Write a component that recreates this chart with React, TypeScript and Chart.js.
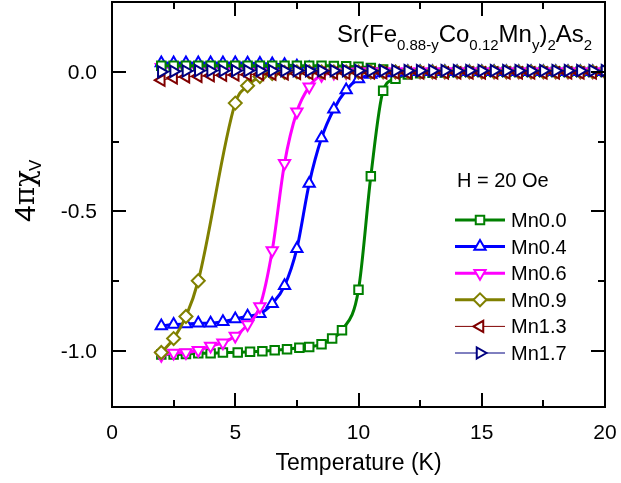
import React, { useEffect, useRef } from "react";
import { Chart, registerables } from "chart.js";
import { drawPoint } from "chart.js/helpers";

Chart.register(...registerables);

// ---- Data: 4πχV vs temperature (K) ----
// ZFC branches
const tMn00 = [2.0, 2.5, 3.0, 3.5, 4.0, 4.5, 5.1, 5.6, 6.1, 6.6, 7.1, 7.6, 8.0, 8.5, 8.93, 9.33, 10.0, 10.5, 11.0, 11.5, 12.0, 12.5, 13.0, 13.5, 14.0, 14.5, 15.0, 15.5, 16.0, 16.5, 17.0, 17.5, 18.0, 18.5, 19.0, 19.5, 20.0];
const vMn00 = [-1.012, -1.012, -1.010, -1.008, -1.008, -1.005, -1.005, -1.002, -1.0, -0.997, -0.993, -0.988, -0.985, -0.975, -0.955, -0.925, -0.78, -0.374, -0.068, -0.025, -0.01, -0.005, -0.003, -0.002, -0.001, 0, 0, 0, 0, 0, 0, 0, 0, 0, 0, 0, 0];

const tMn04 = [2.0, 2.5, 3.0, 3.5, 4.0, 4.5, 5.0, 5.5, 6.0, 6.5, 7.0, 7.5, 8.0, 8.5, 9.0, 9.5, 10.0, 10.5, 11.0, 11.5, 12.0, 12.5, 13.0, 13.5, 14.0, 14.5, 15.0, 15.5, 16.0, 16.5, 17.0, 17.5, 18.0, 18.5, 19.0, 19.5, 20.0];
const vMn04 = [-0.91, -0.905, -0.903, -0.9, -0.9, -0.895, -0.885, -0.875, -0.866, -0.83, -0.766, -0.633, -0.4, -0.237, -0.134, -0.065, -0.026, -0.01, -0.004, -0.002, 0, 0, 0, 0, 0, 0, 0, 0, 0, 0, 0, 0, 0, 0, 0, 0, 0];

const tMn06 = [2.0, 2.5, 3.0, 3.5, 4.0, 4.5, 5.0, 5.5, 6.0, 6.5, 7.0, 7.5, 8.0, 8.5, 9.0, 9.5, 10.0, 10.5, 11.0, 11.5, 12.0, 12.5, 13.0, 13.5, 14.0, 14.5, 15.0, 15.5, 16.0, 16.5, 17.0, 17.5, 18.0, 18.5, 19.0, 19.5, 20.0];
const vMn06 = [-1.015, -1.007, -1.005, -0.997, -0.982, -0.97, -0.946, -0.905, -0.84, -0.64, -0.327, -0.143, -0.053, -0.012, -0.004, -0.002, 0, 0, 0, 0, 0, 0, 0, 0, 0, 0, 0, 0, 0, 0, 0, 0, 0, 0, 0, 0, 0];

const tMn09 = [2.0, 2.5, 3.0, 3.5, 5.0, 5.5, 6.0, 6.5, 7.0, 7.5, 8.0, 8.5, 9.0, 9.5, 10.0, 10.5, 11.0, 11.5, 12.0, 12.5, 13.0, 13.5, 14.0, 14.5, 15.0, 15.5, 16.0, 16.5, 17.0, 17.5, 18.0, 18.5, 19.0, 19.5, 20.0];
const vMn09 = [-1.005, -0.955, -0.876, -0.748, -0.112, -0.05, -0.017, -0.006, -0.002, 0, 0, 0, 0, 0, 0, 0, 0, 0, 0, 0, 0, 0, 0, 0, 0, 0, 0, 0, 0, 0, 0, 0, 0, 0, 0];

const tMn13 = [2.0, 2.5, 3.0, 3.5, 4.0, 4.5, 5.0, 5.5, 6.0, 6.5, 7.0, 7.5, 8.0, 8.5, 9.0, 9.5, 10.0, 10.5, 11.0, 11.5, 12.0, 12.5, 13.0, 13.5, 14.0, 14.5, 15.0, 15.5, 16.0, 16.5, 17.0, 17.5, 18.0, 18.5, 19.0, 19.5, 20.0];
const vMn13 = [-0.03, -0.022, -0.018, -0.016, -0.014, -0.012, -0.011, -0.01, -0.009, -0.008, -0.007, -0.006, -0.006, -0.005, -0.005, -0.005, -0.004, -0.004, -0.004, -0.004, -0.004, -0.004, -0.004, -0.004, -0.004, -0.004, -0.004, -0.004, -0.004, -0.004, -0.004, -0.004, -0.004, -0.004, -0.004, -0.004, -0.004];

const tMn17 = [2.0, 2.5, 3.0, 3.5, 4.0, 4.5, 5.0, 5.5, 6.0, 6.5, 7.0, 7.5, 8.0, 8.5, 9.0, 9.5, 10.0, 10.5, 11.0, 11.5, 12.0, 12.5, 13.0, 13.5, 14.0, 14.5, 15.0, 15.5, 16.0, 16.5, 17.0, 17.5, 18.0, 18.5, 19.0, 19.5, 20.0];
const vMn17 = [0.0, 0.002, 0.003, 0.004, 0.004, 0.004, 0.004, 0.004, 0.004, 0.004, 0.004, 0.004, 0.004, 0.004, 0.004, 0.004, 0.004, 0.004, 0.004, 0.004, 0.004, 0.004, 0.004, 0.004, 0.004, 0.004, 0.004, 0.004, 0.004, 0.004, 0.004, 0.004, 0.004, 0.004, 0.004, 0.004, 0.004];

// FC branches (stay near zero below Tc)
const tFcMn00 = [2.0, 2.5, 3.0, 3.5, 4.0, 4.5, 5.0, 5.5, 6.0, 6.5, 7.0, 7.5, 8.0, 8.5, 9.0, 9.5, 10.0, 10.5, 11.0];
const vFcMn00 = [0.022, 0.022, 0.022, 0.022, 0.022, 0.022, 0.022, 0.022, 0.022, 0.022, 0.022, 0.022, 0.022, 0.022, 0.021, 0.02, 0.018, 0.014, 0.008];
const tFcMn04 = [2.0, 2.5, 3.0, 3.5, 4.0, 4.5, 5.0, 5.5, 6.0, 6.5, 7.0, 7.5, 8.0, 8.5];
const vFcMn04 = [0.032, 0.032, 0.032, 0.032, 0.032, 0.032, 0.032, 0.031, 0.03, 0.028, 0.025, 0.02, 0.014, 0.008];
const tFcMn06 = [2.0, 2.5, 3.0, 3.5, 4.0, 4.5, 5.0, 5.5, 6.0, 6.5, 7.0];
const vFcMn06 = [0.016, 0.016, 0.016, 0.016, 0.016, 0.015, 0.014, 0.013, 0.011, 0.008, 0.005];

const xTickValues = [0, 5, 10, 15, 20];
const xMinorTicks = [2.5, 7.5, 12.5, 17.5];
const yTickValues = [-1.0, -0.5, 0.0];
const yMinorTicks = [-0.75, -0.25];

const legendLabels = ["Mn0.0", "Mn0.4", "Mn0.6", "Mn0.9", "Mn1.3", "Mn1.7"];
const fieldLabel = "H = 20 Oe";

const FONT = "'Liberation Sans', Arial, sans-serif";

const pts = (t: number[], v: number[]) => t.map((x, i) => ({ x, y: v[i] }));

type Style = {
  color: string;
  pointStyle: string;
  rotation: number;
  radius: number;
  lineWidth: number;
};

const styles: Style[] = [
  { color: "#008000", pointStyle: "rect", rotation: 0, radius: 6, lineWidth: 3 },
  { color: "#0000ff", pointStyle: "triangle", rotation: 0, radius: 6.5, lineWidth: 3 },
  { color: "#ff00ff", pointStyle: "triangle", rotation: 180, radius: 6.5, lineWidth: 3 },
  { color: "#808000", pointStyle: "rectRot", rotation: 0, radius: 6.5, lineWidth: 3 },
  { color: "#800000", pointStyle: "triangle", rotation: -90, radius: 6.5, lineWidth: 1 },
  { color: "#000080", pointStyle: "triangle", rotation: 90, radius: 6.5, lineWidth: 1 },
];

const series = [
  pts(tMn00, vMn00),
  pts(tMn04, vMn04),
  pts(tMn06, vMn06),
  pts(tMn09, vMn09),
  pts(tMn13, vMn13),
  pts(tMn17, vMn17),
];

const fcSeries = [
  { data: pts(tFcMn00, vFcMn00), s: 0 },
  { data: pts(tFcMn04, vFcMn04), s: 1 },
  { data: pts(tFcMn06, vFcMn06), s: 2 },
];

// draw order: Mn1.7 on top, then Mn1.3, Mn0.9, Mn0.6, Mn0.4, Mn0.0, FC below
const drawOrder = [5, 4, 3, 2, 1, 0];

function makeDataset(data: { x: number; y: number }[], st: Style, order: number, label: string) {
  return {
    label,
    data,
    order,
    borderColor: st.color,
    borderWidth: st.lineWidth,
    pointStyle: st.pointStyle,
    pointRotation: st.rotation,
    pointRadius: st.radius,
    pointBorderWidth: 2,
    pointBorderColor: st.color,
    pointBackgroundColor: "#ffffff",
    cubicInterpolationMode: "monotone" as const,
    fill: false,
  };
}

const framePlugin = {
  id: "frame",
  afterDatasetsDraw(chart: any) {
    const { ctx, chartArea: a, scales } = chart;
    const xs = scales.x;
    const ys = scales.y;
    ctx.save();
    ctx.strokeStyle = "#000";
    ctx.lineWidth = 2;
    ctx.strokeRect(a.left, a.top, a.right - a.left, a.bottom - a.top);
    const major = 14;
    const minor = 7;
    ctx.beginPath();
    const xt = (v: number, len: number) => {
      const px = Math.round(xs.getPixelForValue(v));
      ctx.moveTo(px, a.bottom);
      ctx.lineTo(px, a.bottom - len);
      ctx.moveTo(px, a.top);
      ctx.lineTo(px, a.top + len);
    };
    const yt = (v: number, len: number) => {
      const py = Math.round(ys.getPixelForValue(v));
      ctx.moveTo(a.left, py);
      ctx.lineTo(a.left + len, py);
      ctx.moveTo(a.right, py);
      ctx.lineTo(a.right - len, py);
    };
    xTickValues.forEach((v) => xt(v, major));
    xMinorTicks.forEach((v) => xt(v, minor));
    yTickValues.forEach((v) => yt(v, major));
    yMinorTicks.forEach((v) => yt(v, minor));
    ctx.stroke();

    // tick labels
    ctx.fillStyle = "#000";
    ctx.font = `21px ${FONT}`;
    ctx.textAlign = "center";
    ctx.textBaseline = "middle";
    xTickValues.forEach((v) => {
      ctx.fillText(String(v), xs.getPixelForValue(v), 433);
    });
    ctx.textAlign = "right";
    yTickValues.forEach((v) => {
      ctx.fillText(v.toFixed(1), 97, ys.getPixelForValue(v) + 1);
    });

    // axis titles
    ctx.font = `23px ${FONT}`;
    ctx.textAlign = "center";
    ctx.fillText("Temperature (K)", (a.left + a.right) / 2, 464);

    // y title: 4πχ_V, rotated
    ctx.save();
    ctx.translate(35, 222);
    ctx.rotate(-Math.PI / 2);
    ctx.textAlign = "left";
    ctx.textBaseline = "alphabetic";
    let x = 0;
    ctx.font = `30px ${FONT}`;
    ctx.fillText("4", x, 0);
    x += ctx.measureText("4").width;
    ctx.font = `28px 'DejaVu Serif', serif`;
    ctx.fillText("πχ", x, -1);
    x += ctx.measureText("πχ").width;
    ctx.font = `17px ${FONT}`;
    ctx.fillText("V", x - 1, 6);
    ctx.restore();

    // compound formula
    ctx.textAlign = "left";
    ctx.textBaseline = "alphabetic";
    const parts: [string, boolean][] = [
      ["Sr(Fe", false],
      ["0.88-y", true],
      ["Co", false],
      ["0.12", true],
      ["Mn", false],
      ["y", true],
      [")", false],
      ["2", true],
      ["As", false],
      ["2", true],
    ];
    let fx = 337;
    parts.forEach(([txt, sub]) => {
      ctx.font = sub ? `15px ${FONT}` : `24px ${FONT}`;
      ctx.fillText(txt, fx, sub ? 50 : 42);
      fx += ctx.measureText(txt).width;
    });

    // legend
    ctx.font = `20px ${FONT}`;
    ctx.fillText(fieldLabel, 457, 187);
    legendLabels.forEach((lab, i) => {
      const st = styles[i];
      const y = 220 + i * 26.6;
      ctx.strokeStyle = st.color;
      ctx.lineWidth = st.lineWidth;
      ctx.beginPath();
      ctx.moveTo(455, y);
      ctx.lineTo(505, y);
      ctx.stroke();
      ctx.fillStyle = "#ffffff";
      ctx.strokeStyle = st.color;
      ctx.lineWidth = 2;
      drawPoint(ctx, { pointStyle: st.pointStyle, radius: st.radius, rotation: st.rotation, borderWidth: 2 } as any, 480, y);
      ctx.fillStyle = "#000";
      ctx.font = `20px ${FONT}`;
      ctx.fillText(lab, 511, y + 7);
    });
    ctx.restore();
  },
};

export default function App() {
  const ref = useRef<HTMLCanvasElement | null>(null);

  useEffect(() => {
    if (!ref.current) return;
    const datasets: any[] = [];
    series.forEach((d, i) => {
      datasets.push(makeDataset(d, styles[i], drawOrder[i], legendLabels[i]));
    });
    fcSeries.forEach((f, k) => {
      datasets.push(makeDataset(f.data, styles[f.s], 10 + k, legendLabels[f.s] + " FC"));
    });

    const chart = new Chart(ref.current, {
      type: "line",
      data: { datasets },
      options: {
        animation: false,
        responsive: true,
        maintainAspectRatio: false,
        layout: { autoPadding: false, padding: { top: 2, right: 16, left: 0, bottom: 0 } },
        plugins: { legend: { display: false }, tooltip: { enabled: false }, title: { display: false } },
        scales: {
          x: {
            type: "linear",
            min: 0,
            max: 20,
            grid: { display: false, drawTicks: false },
            border: { display: false },
            ticks: { display: false },
            afterFit: (s: any) => {
              s.height = 76;
              s.paddingLeft = 0;
              s.paddingRight = 0;
            },
          },
          y: {
            type: "linear",
            min: -1.2,
            max: 0.25,
            grid: { display: false, drawTicks: false },
            border: { display: false },
            ticks: { display: false },
            afterFit: (s: any) => {
              s.width = 112;
              s.paddingTop = 0;
              s.paddingBottom = 0;
            },
          },
        },
      },
      plugins: [framePlugin],
    });
    return () => chart.destroy();
  }, []);

  return (
    <div style={{ position: "fixed", left: 0, top: 0, width: 621, height: 483, background: "#fff" }}>
      <canvas ref={ref} />
    </div>
  );
}
